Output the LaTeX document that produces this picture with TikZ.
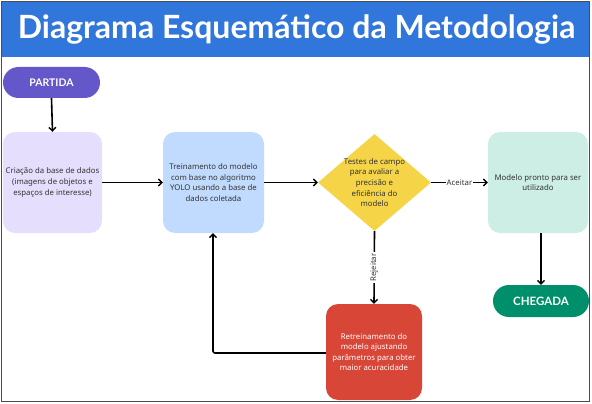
\documentclass[tikz,border=0pt]{standalone}
\usepackage{fontspec}
\setmainfont{Noto Sans}[AutoFakeBold=2.2]
\newfontfamily\titlefont{Lato}
\usetikzlibrary{shapes.geometric,arrows.meta}
\definecolor{titleblue}{HTML}{3176DA}
\definecolor{startpurple}{HTML}{6357C9}
\definecolor{lavender}{HTML}{E5DEFC}
\definecolor{lightblue}{HTML}{C0DBFE}
\definecolor{testyellow}{HTML}{F5D547}
\definecolor{mint}{HTML}{CCEEE4}
\definecolor{endgreen}{HTML}{008F6B}
\definecolor{retrainred}{HTML}{D84638}
\definecolor{txtgray}{HTML}{333333}
\definecolor{framegray}{HTML}{4D4D4D}
\tikzset{
  boxnode/.style={rectangle, rounded corners=12pt, inner sep=2pt, align=center,
    font=\fontsize{7.8}{10.6}\selectfont, text=txtgray},
  pill/.style={rectangle, rounded corners=15.5pt, inner sep=0pt, align=center,
    font=\titlefont\bfseries\fontsize{10.5}{12}\selectfont, text=white},
  conn/.style={line width=1.6pt, -{Straight Barb[length=3.5pt,width=7pt,line width=1.4pt]}},
  lbl/.style={fill=white, inner sep=1pt, font=\fontsize{7.8}{9}\selectfont, text=txtgray}
}
\begin{document}
\begin{tikzpicture}[x=1pt,y=-1pt]
\useasboundingbox (0,0) rectangle (592,404);
\fill[white] (0,0) rectangle (592,404);
% title bar
\fill[titleblue] (2,2) rectangle (589,57);
\node[text=white, font=\titlefont\bfseries\fontsize{32}{35}\selectfont] (title) at (296.5,29.5) {Diagrama Esquemático da Metodologia};
\draw[framegray, line width=1.2pt] (1.5,1.5) rectangle (589.5,401.5);
% nodes
\node[pill, fill=startpurple, minimum width=97pt, minimum height=31pt] (start) at (51.5,82.5) {PARTIDA};
\node[boxnode, fill=lavender, minimum width=99pt, minimum height=101pt] (create) at (52.5,182.5) {Criação da base de dados\\(imagens de objetos e\\espaços de interesse)};
\node[boxnode, fill=lightblue, minimum width=101pt, minimum height=101pt] (train) at (213.5,182.5) {Treinamento do modelo\\com base no algoritmo\\YOLO usando a base de\\dados coletada};
\node[diamond, fill=testyellow, minimum width=113pt, minimum height=97pt, aspect=1.165, inner sep=0pt] (test) at (374.5,182.5) {};
\node[boxnode] (testtxt) at (test.center) {Testes de campo\\para avaliar a\\precisão e\\eficiência do\\modelo};
\node[boxnode, fill=mint, minimum width=100pt, minimum height=101pt] (ready) at (538,182.5) {Modelo pronto para ser\\utilizado};
\node[pill, fill=endgreen, minimum width=96pt, minimum height=32pt, rounded corners=16pt, font=\titlefont\bfseries\fontsize{11.5}{13}\selectfont] (finish) at (541,301) {CHEGADA};
\node[boxnode, fill=retrainred, text=white, minimum width=96pt, minimum height=96pt] (retrain) at (374,352) {Retreinamento do\\modelo ajustando\\parâmetros para obter\\maior acuracidade};
\coordinate (corner) at (213,353);
% connectors
\draw[conn] (start.south) -- (create.north);
\draw[conn] (create.east) -- (train.west);
\draw[conn] (train.east) -- (test.west);
\draw[conn] (test.east) -- node[lbl] {Aceitar} (ready.west);
\draw[conn] (test.south) -- node[lbl, rotate=90] {Rejeitar} (retrain.north);
\draw[conn] (ready.south -| finish.north) -- (finish.north);
\draw[conn, rounded corners=2pt] (retrain.west |- corner) -- (corner) -- (corner |- train.south);
\end{tikzpicture}
\end{document}
